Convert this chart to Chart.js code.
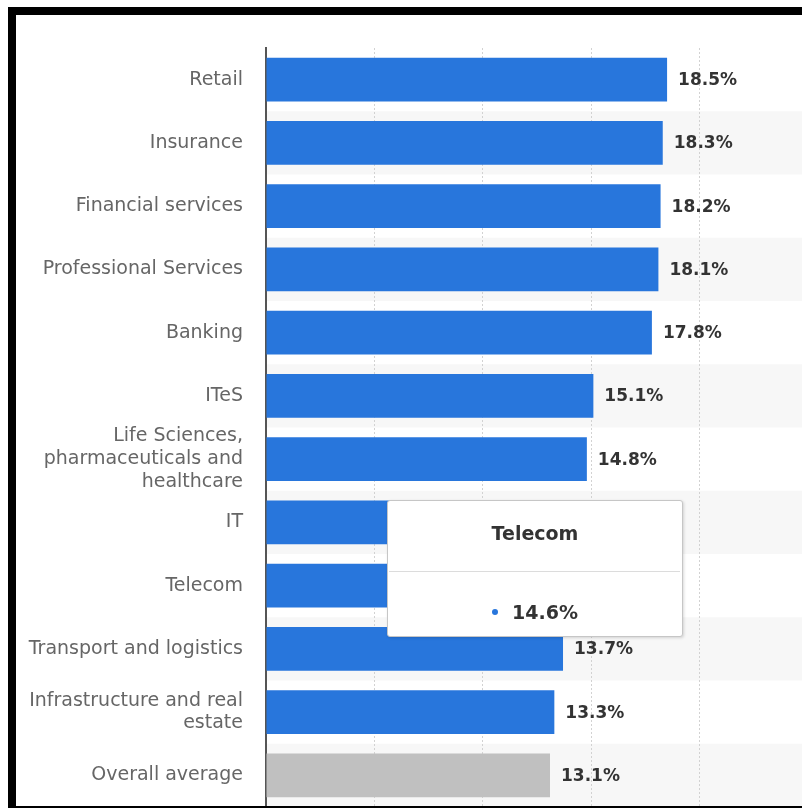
<!DOCTYPE html>
<html>
<head>
<meta charset="utf-8">
<script src="https://cdn.jsdelivr.net/npm/chart.js@4.4.1/dist/chart.umd.min.js"></script>
<style>
    html, body { margin: 0; padding: 0; background: #fff; }
    #wrap { position: relative; width: 802px; height: 809px; overflow: hidden; }
    #grafica { position: absolute; left: 0; top: 0; }
    .marco { position: absolute; background: #000; }
    #tooltip {
        position: absolute; width: 294px; height: 135px; background: #fff;
        border: 1px solid #c6c6c6; border-radius: 3px; box-shadow: 1px 1px 3px rgba(0,0,0,0.15);
        font-family: "DejaVu Sans", sans-serif; color: #333; display: none;
    }
    #tooltip .titulo { position: absolute; left: 0; right: 0; top: 0; height: 64px; line-height: 64px; text-align: center; font-weight: bold; font-size: 19px; }
    #tooltip .linea { position: absolute; left: 1px; right: 2px; top: 70px; height: 1px; background: #dcdcdc; }
    #tooltip .valor { position: absolute; left: 0; right: 0; top: 80px; height: 62px; line-height: 62px; text-align: center; font-weight: bold; font-size: 19px; }
    #tooltip .punto { display: inline-block; width: 6px; height: 6px; border-radius: 50%; margin-right: 14px; vertical-align: middle; position: relative; top: -2px; }
</style>
</head>
<body>
<div id="wrap">
    <canvas id="grafica" width="820" height="809"></canvas>
    <div class="marco" style="left:8px;top:7px;width:794px;height:8px"></div>
    <div class="marco" style="left:8px;top:7px;width:8px;height:801px"></div>
    <div class="marco" style="left:8px;top:806px;width:794px;height:2px"></div>
    <div id="tooltip"><div class="titulo"></div><div class="linea"></div><div class="valor"></div></div>
</div>
<script>
var Sectores = [
    "Retail", "Insurance", "Financial services", "Professional Services", "Banking", "ITeS",
    ["Life Sciences,", "pharmaceuticals and", "healthcare"], "IT", "Telecom",
    "Transport and logistics", ["Infrastructure and real", "estate"], "Overall average"
];
var Porcentajes = [18.5, 18.3, 18.2, 18.1, 17.8, 15.1, 14.8, 14.7, 14.6, 13.7, 13.3, 13.1];
var Colores = ['#2876dc', '#2876dc', '#2876dc', '#2876dc', '#2876dc', '#2876dc',
    '#2876dc', '#2876dc', '#2876dc', '#2876dc', '#2876dc', '#c0c0c0'];
var TicksX = [0, 5, 10, 15, 20, 25];
var SectorActivo = 8;

// franjas grises alternas detras de las barras
var Franjas = {
    id: 'franjas',
    beforeDraw: function (chart) {
        var ctx = chart.ctx, area = chart.chartArea, y = chart.scales.y;
        var alto = (area.bottom - area.top) / Sectores.length;
        ctx.save();
        ctx.fillStyle = '#f7f7f7';
        for (var i = 1; i < Sectores.length; i += 2) {
            var c = y.getPixelForValue(i);
            ctx.fillRect(area.left, c - alto / 2, area.right - area.left, alto);
        }
        ctx.restore();
    }
};

// etiquetas de valor al final de cada barra
var Etiquetas = {
    id: 'etiquetas',
    afterDatasetsDraw: function (chart) {
        var ctx = chart.ctx;
        var meta = chart.getDatasetMeta(0);
        ctx.save();
        ctx.font = 'bold 17px "DejaVu Sans", sans-serif';
        ctx.fillStyle = '#333';
        ctx.textAlign = 'left';
        ctx.textBaseline = 'middle';
        meta.data.forEach(function (bar, i) {
            ctx.fillText(Porcentajes[i].toFixed(1) + '%', bar.x + 11, bar.y + 1);
        });
        ctx.restore();
    }
};

function TooltipExterno(context) {
    var tt = context.tooltip;
    var div = document.getElementById('tooltip');
    if (tt.opacity === 0 || !tt.dataPoints || !tt.dataPoints.length) {
        div.style.display = 'none';
        return;
    }
    var p = tt.dataPoints[0];
    var el = p.element;
    div.querySelector('.titulo').textContent = tt.title.join(' ');
    div.querySelector('.valor').innerHTML = '<span class="punto" style="background:' + Colores[p.dataIndex] + '"></span>' + p.raw.toFixed(1) + '%';
    div.style.left = Math.round(el.x - 196) + 'px';
    div.style.top = Math.round(el.y - 86) + 'px';
    div.style.display = 'block';
}

var ctx = document.getElementById('grafica');
var grafica = new Chart(ctx, {
    type: 'bar',
    data: {
        labels: Sectores,
        datasets: [{
            label: 'Share',
            data: Porcentajes,
            backgroundColor: Colores,
            borderWidth: 0,
            barPercentage: 0.69,
            categoryPercentage: 1
        }]
    },
    options: {
        indexAxis: 'y',
        responsive: false,
        animation: false,
        events: [],
        layout: { padding: { top: 48, right: 12, bottom: 2, left: 0 } },
        scales: {
            x: {
                min: 0, max: 25,
                afterBuildTicks: function (scale) {
                    scale.ticks = TicksX.map(function (v) { return { value: v }; });
                },
                afterFit: function (scale) { scale.height = 0; },
                ticks: { display: false },
                grid: { color: '#d2d2d2', lineWidth: 1, drawTicks: false },
                border: { display: false, dash: [2, 2] }
            },
            y: {
                afterFit: function (scale) {
                    scale.width = 266;
                    scale.paddingTop = 0;
                    scale.paddingBottom = 0;
                },
                ticks: {
                    autoSkip: false,
                    color: '#666',
                    padding: 23,
                    font: { family: '"DejaVu Sans", sans-serif', size: 19, lineHeight: 1.19 }
                },
                grid: { display: false, drawTicks: false },
                border: { display: true, color: '#555', width: 2 }
            }
        },
        plugins: {
            legend: { display: false },
            tooltip: { enabled: false, external: TooltipExterno }
        }
    },
    plugins: [Franjas, Etiquetas]
});

grafica.tooltip.setActiveElements([{ datasetIndex: 0, index: SectorActivo }], { x: 0, y: 0 });
grafica.update();
</script>
</body>
</html>
